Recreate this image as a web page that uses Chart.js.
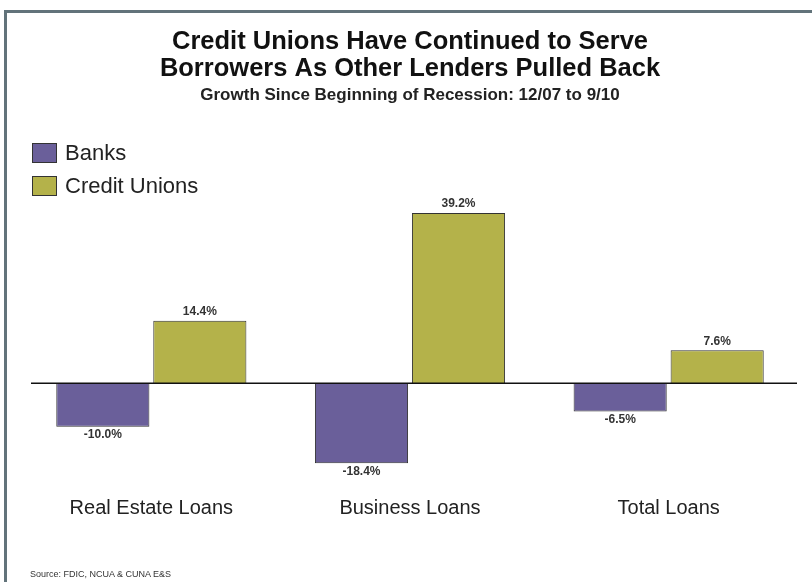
<!DOCTYPE html>
<html>
<head>
<meta charset="utf-8">
<script src="https://cdn.jsdelivr.net/npm/chart.js@4/dist/chart.umd.min.js"></script>
<style>
  html, body { margin: 0; padding: 0; background: #fff; }
  #wrap { position: relative; width: 812px; height: 582px; overflow: hidden; font-family: "Liberation Sans", Arial, sans-serif; }
  #frame { position: absolute; left: 4px; top: 10px; right: -10px; bottom: -10px; border-top: 3px solid #62737a; border-left: 3px solid #62737a; }
  #chartBox { position: absolute; left: 0; top: 0; width: 802px; height: 582px; }
  #legend { position: absolute; left: 32px; top: 142px; }
  .legend-item { display: flex; align-items: center; height: 22px; margin-bottom: 11px; font-size: 22px; color: #222; }
  .legend-item .sw { width: 25px; height: 20px; border: 1px solid #333; margin-right: 8px; box-sizing: border-box; }
  #source { position: absolute; left: 30px; top: 569px; font-size: 9px; color: #333; }
</style>
</head>
<body>
<div id="wrap">
  <div id="frame"></div>
  <div id="chartBox"><canvas id="chart"></canvas></div>
  <div id="legend"></div>
  <div id="source">Source: FDIC, NCUA &amp; CUNA E&amp;S</div>
</div>
<script>
// Loan growth, 12/07 to 9/10 (%)
const CATEGORIES = ["Real Estate Loans", "Business Loans", "Total Loans"];
const BANKS = [-10.0, -18.4, -6.5];
const CREDIT_UNIONS = [14.4, 39.2, 7.6];
const SERIES_NAMES = ["Banks", "Credit Unions"];
const COLORS = ["#6a5f9a", "#b4b24a"];

// value labels above / below each bar plus the zero line
const barLabels = {
  id: "barLabels",
  afterDatasetsDraw(chart) {
    const ctx = chart.ctx;
    const y0 = chart.scales.y.getPixelForValue(0);
    ctx.save();
    ctx.strokeStyle = "#111";
    ctx.lineWidth = 1.5;
    ctx.beginPath();
    ctx.moveTo(31, y0);
    ctx.lineTo(797, y0);
    ctx.stroke();

    ctx.font = "bold 12px 'Liberation Sans', Arial, sans-serif";
    ctx.fillStyle = "#333";
    ctx.textAlign = "center";
    chart.data.datasets.forEach((ds, i) => {
      chart.getDatasetMeta(i).data.forEach((bar, j) => {
        const v = ds.data[j];
        const txt = v.toFixed(1) + "%";
        if (v >= 0) {
          ctx.textBaseline = "bottom";
          ctx.fillText(txt, bar.x, bar.y - 3);
        } else {
          ctx.textBaseline = "top";
          ctx.fillText(txt, bar.x, bar.y + 2);
        }
      });
    });
    ctx.restore();
  }
};

new Chart(document.getElementById("chart"), {
  type: "bar",
  data: {
    labels: CATEGORIES,
    datasets: [
      { label: SERIES_NAMES[0], data: BANKS, backgroundColor: COLORS[0], borderColor: "#333", borderWidth: 1 },
      { label: SERIES_NAMES[1], data: CREDIT_UNIONS, backgroundColor: COLORS[1], borderColor: "#333", borderWidth: 1 }
    ]
  },
  options: {
    responsive: true,
    maintainAspectRatio: false,
    animation: false,
    layout: { padding: { left: 22, right: 4, top: 0, bottom: 58 } },
    categoryPercentage: 0.75,
    barPercentage: 0.96,
    plugins: {
      legend: { display: false },
      tooltip: { enabled: false },
      title: {
        display: true,
        text: ["Credit Unions Have Continued to Serve", "Borrowers As Other Lenders Pulled Back"],
        color: "#111",
        font: { family: "'Liberation Sans', Arial, sans-serif", size: 25.5, weight: "bold", lineHeight: 1.06 },
        padding: { top: 28, bottom: 3 }
      },
      subtitle: {
        display: true,
        text: "Growth Since Beginning of Recession: 12/07 to 9/10",
        color: "#222",
        font: { family: "'Liberation Sans', Arial, sans-serif", size: 17, weight: "bold" },
        padding: { top: 0, bottom: 104 }
      }
    },
    scales: {
      x: {
        grid: { display: false, drawTicks: false },
        border: { display: false },
        ticks: { color: "#222", padding: 4, font: { family: "'Liberation Sans', Arial, sans-serif", size: 20 } }
      },
      y: {
        display: false,
        min: -25,
        max: 40
      }
    }
  },
  plugins: [barLabels]
});

// legend stacked on the left, built from the dataset names
const legend = document.getElementById("legend");
SERIES_NAMES.forEach((name, i) => {
  const item = document.createElement("div");
  item.className = "legend-item";
  item.innerHTML = `<div class="sw" style="background:${COLORS[i]}"></div><div>${name}</div>`;
  legend.appendChild(item);
});
</script>
</body>
</html>
